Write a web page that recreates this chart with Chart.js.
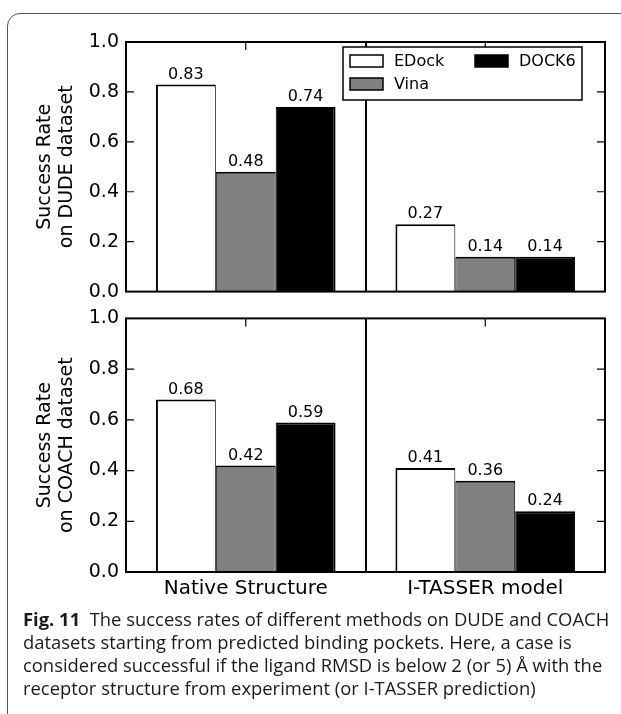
<!DOCTYPE html>
<html>
<head>
<meta charset="utf-8">
<script src="https://cdn.jsdelivr.net/npm/chart.js@4.4.1/dist/chart.umd.min.js"></script>
<style>
  html, body { margin: 0; padding: 0; background: #fff; }
  #wrap { position: relative; width: 621px; height: 714px; overflow: hidden; background: #fff; }
  #frame { position: absolute; left: 7px; top: 13px; width: 700px; height: 760px;
           border: 1.5px solid #555; border-top-left-radius: 13px; box-sizing: border-box; }
  canvas { position: absolute; left: 0; }
  #c1 { top: 0; }
  #c2 { top: 300px; }
  #caption { position: absolute; left: 23px; top: 607px; width: 598px;
             font-family: "Open Sans", sans-serif; font-size: 18.4px; line-height: 23px;
             color: #1a1a1a; white-space: pre; }
  #caption b { font-weight: 700; }
</style>
</head>
<body>
<div id="wrap">
  <div id="frame"></div>
  <canvas id="c1" width="621" height="310"></canvas>
  <canvas id="c2" width="621" height="300"></canvas>
  <div id="caption"><b>Fig. 11</b>  The success rates of different methods on DUDE and COACH
datasets starting from predicted binding pockets. Here, a case is
considered successful if the ligand RMSD is below 2 (or 5) Å with the
receptor structure from experiment (or I-TASSER prediction)</div>
</div>
<script>
// ---- data ----
const categories = ['Native Structure', 'I-TASSER model'];
const methods = ['EDock', 'Vina', 'DOCK6'];
const methodColors = ['#ffffff', '#808080', '#000000'];
const dudeEDock = [0.83, 0.27];
const dudeVina = [0.48, 0.14];
const dudeDock6 = [0.74, 0.14];
const coachEDock = [0.68, 0.41];
const coachVina = [0.42, 0.36];
const coachDock6 = [0.59, 0.24];
const yTickValues = [0.0, 0.2, 0.4, 0.6, 0.8, 1.0];

const FONT = "'DejaVu Sans', sans-serif";
const TL = 8;

function makeDatasets(series) {
  return series.map((vals, i) => ({
    label: methods[i],
    data: vals,
    backgroundColor: methodColors[i],
    borderColor: '#000',
    borderWidth: { top: 2, left: i === 0 ? 2 : 1, right: i === 2 ? 2 : 1, bottom: 0 },
    borderSkipped: 'start',
    barPercentage: 1.0,
    categoryPercentage: 0.75
  }));
}

const axisPlugin = {
  id: 'axisDecor',
  beforeDatasetsDraw(chart) {
    const { ctx, chartArea: a, scales: { x, y } } = chart;
    ctx.save();
    ctx.strokeStyle = '#000';
    ctx.lineWidth = 1.2;
    ctx.beginPath();
    y.ticks.forEach((t, i) => {
      const py = y.getPixelForTick(i);
      if (py <= a.top + 1 || py >= a.bottom - 1) return;
      ctx.moveTo(a.left, py); ctx.lineTo(a.left + TL, py);
      ctx.moveTo(a.right, py); ctx.lineTo(a.right - TL, py);
    });
    x.ticks.forEach((t, i) => {
      const px = x.getPixelForTick(i);
      ctx.moveTo(px, a.top); ctx.lineTo(px, a.top + TL);
      ctx.moveTo(px, a.bottom); ctx.lineTo(px, a.bottom - TL);
    });
    ctx.stroke();
    ctx.restore();
  },
  afterDatasetsDraw(chart, args, opts) {
    const { ctx, chartArea: a } = chart;
    ctx.save();
    // value labels
    ctx.fillStyle = '#000';
    ctx.font = '16px ' + FONT;
    ctx.textAlign = 'center';
    ctx.textBaseline = 'bottom';
    chart.data.datasets.forEach((ds, di) => {
      const meta = chart.getDatasetMeta(di);
      meta.data.forEach((el, i) => {
        ctx.fillText(ds.data[i].toFixed(2), el.x, el.y - 2);
      });
    });
    // frame
    ctx.strokeStyle = '#000';
    ctx.lineWidth = 2;
    ctx.strokeRect(a.left, a.top, a.right - a.left, a.bottom - a.top);
    // legend
    if (opts && opts.legend) {
      const bx = a.right - 262, by = a.top + 5, bw = 239, bh = 53;
      ctx.fillStyle = '#fff';
      ctx.fillRect(bx, by, bw, bh);
      ctx.lineWidth = 1.5;
      ctx.strokeRect(bx, by, bw, bh);
      ctx.font = '16px ' + FONT;
      ctx.textAlign = 'left';
      ctx.textBaseline = 'middle';
      chart.data.datasets.forEach((ds, i) => {
        const col = Math.floor(i / 2), row = i % 2;
        const sx = bx + 7 + col * 125, sy = by + 14 + row * 23;
        ctx.fillStyle = ds.backgroundColor;
        ctx.fillRect(sx, sy - 6, 33, 12);
        ctx.strokeStyle = '#000';
        ctx.lineWidth = 1.5;
        ctx.strokeRect(sx, sy - 6, 33, 12);
        ctx.fillStyle = '#000';
        ctx.fillText(ds.label, sx + 44, sy + 1);
      });
    }
    ctx.restore();
  }
};

function makeChart(id, series, yTitle, showX, padTop, xHeight, legend) {
  return new Chart(document.getElementById(id), {
    type: 'bar',
    data: { labels: categories, datasets: makeDatasets(series) },
    plugins: [axisPlugin],
    options: {
      responsive: false,
      animation: false,
      devicePixelRatio: 1,
      layout: { padding: { top: padTop, right: 16, left: 0, bottom: 0 } },
      plugins: {
        legend: { display: false },
        tooltip: { enabled: false },
        axisDecor: { legend: legend }
      },
      scales: {
        x: {
          type: 'category',
          offset: true,
          grid: { display: true, offset: true, color: '#000', lineWidth: 2, drawTicks: false },
          border: { display: false },
          ticks: { display: showX, color: '#000', font: { family: FONT, size: 20 }, padding: 5, maxRotation: 0 },
          afterFit: (s) => { s.height = xHeight; }
        },
        y: {
          min: 0, max: 1,
          afterBuildTicks: (s) => { s.ticks = yTickValues.map(v => ({ value: v })); },
          grid: { display: false, drawTicks: false },
          border: { display: false },
          ticks: { color: '#000', font: { family: FONT, size: 19 }, padding: 7,
                   callback: (v) => Number(v).toFixed(1) },
          title: { display: true, text: yTitle, color: '#000',
                   font: { family: FONT, size: 19, lineHeight: 1.15 },
                   padding: { top: 34.6, bottom: 0 } },
          afterFit: (s) => { s.width = 126; }
        }
      }
    }
  });
}

makeChart('c1', [dudeEDock, dudeVina, dudeDock6], ['Success Rate', 'on DUDE dataset'], false, 42, 14, true);
makeChart('c2', [coachEDock, coachVina, coachDock6], ['Success Rate', 'on COACH dataset'], true, 16, 28, false);
</script>
</body>
</html>
